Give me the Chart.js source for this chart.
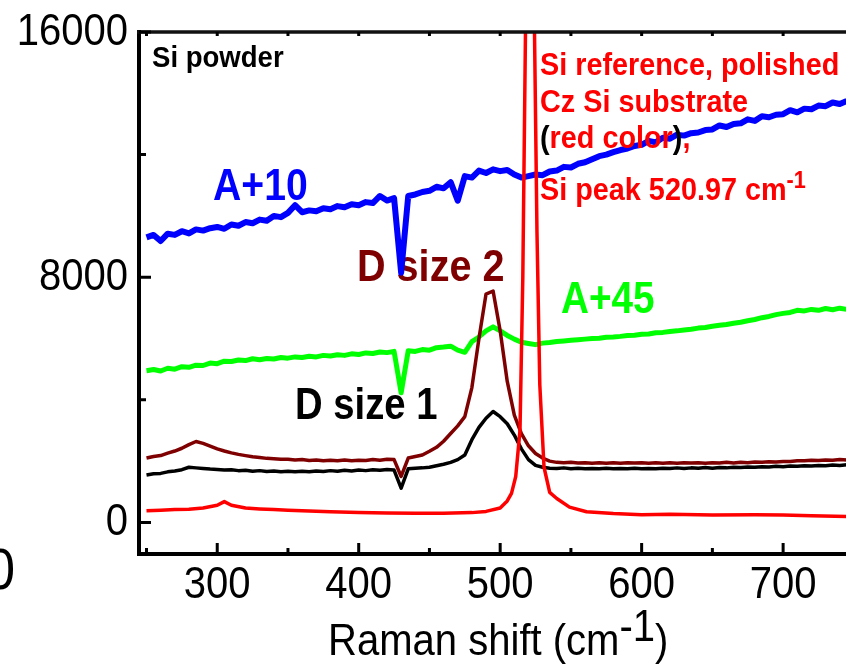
<!DOCTYPE html>
<html>
<head>
<meta charset="utf-8">
<title>Si powder Raman</title>
<script src="https://cdn.jsdelivr.net/npm/chart.js@4/dist/chart.umd.min.js"></script>
<style>
    html, body { margin: 0; padding: 0; background: #fff; overflow: hidden; }
    #ramanChart { display: block; }
</style>
</head>
<body>
<canvas id="ramanChart" width="870" height="665"></canvas>
<script>
// Raman shift grid (cm-1) shared by the powder spectra
var shift = [
    250, 255, 260, 265, 270, 275, 280, 285, 290, 295, 300, 305, 310, 315, 320, 325, 330, 335, 340, 345,
    350, 355, 360, 365, 370, 375, 380, 385, 390, 395, 400, 405, 410, 415, 420, 425, 430, 435, 440, 445,
    450, 455, 460, 465, 470, 475, 480, 485, 490, 495, 500, 505, 510, 515, 520, 525, 530, 535, 540, 545,
    550, 555, 560, 565, 570, 575, 580, 585, 590, 595, 600, 605, 610, 615, 620, 625, 630, 635, 640, 645,
    650, 655, 660, 665, 670, 675, 680, 685, 690, 695, 700, 705, 710, 715, 720, 725, 730, 735, 740, 745
];
var sampleA10 = [
    9300, 9380, 9180, 9420, 9380, 9500, 9430, 9560, 9520, 9600, 9640, 9580, 9720, 9680, 9800, 9760, 9880, 9840, 10000, 9960,
    10100, 10350, 10120, 10180, 10150, 10250, 10220, 10320, 10280, 10380, 10350, 10450, 10420, 10650, 10500, 10580, 8150, 10650, 10700, 10780,
    10820, 10950, 10900, 11100, 10500, 11300, 11250, 11480, 11400, 11520, 11460, 11500, 11350, 11250, 11300, 11350, 11330, 11450, 11480, 11600,
    11580, 11700, 11750, 11850, 11950, 12000, 12080, 12150, 12200, 12280, 12320, 12450, 12400, 12550, 12520, 12650, 12620, 12700, 12720, 12800,
    12820, 12950, 12900, 13000, 13020, 13150, 13100, 13250, 13220, 13300, 13320, 13450, 13380, 13500, 13480, 13600, 13580, 13700, 13650, 13750
];
var sampleA45 = [
    4950, 4990, 4940, 5030, 5000, 5080, 5060, 5130, 5120, 5200, 5180, 5260, 5250, 5300, 5280, 5340, 5310, 5350, 5330, 5380,
    5360, 5400, 5380, 5420, 5400, 5450, 5430, 5470, 5450, 5500, 5480, 5530, 5510, 5560, 5540, 5580, 4230, 5600, 5580, 5640,
    5620, 5700, 5720, 5750, 5620, 5550, 5900, 6050, 6250, 6380, 6250, 6100, 5980, 5880, 5840, 5800, 5850, 5870, 5900, 5920,
    5940, 5960, 5980, 6000, 6010, 6040, 6050, 6070, 6100, 6110, 6140, 6150, 6190, 6200, 6230, 6250, 6280, 6300, 6340, 6360,
    6400, 6430, 6460, 6500, 6530, 6580, 6620, 6680, 6720, 6780, 6820, 6850, 6920, 6900, 6950, 6920, 6980, 6940, 6990, 6950
];
var sizeD2 = [
    2100, 2150, 2180, 2260, 2330, 2420, 2540, 2640, 2580, 2490, 2400, 2330, 2270, 2220, 2180, 2140, 2120, 2090, 2080, 2060,
    2060, 2040, 2050, 2020, 2040, 2010, 2030, 2010, 2040, 2010, 2030, 2020, 2050, 2030, 2060, 2050, 1500, 2100, 2150, 2200,
    2320, 2450, 2650, 2900, 3150, 3450, 4400, 6000, 7450, 7550, 6250, 4600, 3500, 2900, 2500, 2250, 2100, 2000, 1960, 1950,
    1960, 1940, 1950, 1930, 1950, 1930, 1950, 1930, 1950, 1940, 1950, 1930, 1950, 1930, 1950, 1930, 1950, 1940, 1950, 1930,
    1950, 1940, 1960, 1940, 1960, 1950, 1970, 1960, 1980, 1970, 1990, 1990, 2010, 2010, 2030, 2020, 2040, 2030, 2050, 2040
];
var sizeD1 = [
    1550, 1590, 1600, 1650, 1680, 1720, 1800, 1780, 1760, 1740, 1730, 1710, 1720, 1690, 1700, 1670, 1690, 1660, 1680, 1650,
    1670, 1650, 1670, 1650, 1680, 1660, 1690, 1670, 1700, 1680, 1710, 1690, 1720, 1700, 1730, 1710, 1120, 1750, 1770, 1780,
    1800, 1850, 1900, 1960, 2050, 2200, 2700, 3100, 3400, 3620, 3450, 3220, 2850, 2400, 2050, 1860, 1800, 1770, 1760, 1780,
    1750, 1770, 1750, 1760, 1750, 1770, 1750, 1760, 1750, 1770, 1750, 1760, 1750, 1770, 1760, 1780, 1760, 1780, 1770, 1790,
    1770, 1790, 1780, 1800, 1790, 1810, 1800, 1820, 1810, 1830, 1820, 1840, 1830, 1850, 1840, 1860, 1850, 1870, 1860, 1880
];
// polished Cz Si reference, sampled finer around the 520.97 peak
var refShift = [250, 260, 270, 280, 290, 300, 305, 310, 320, 330, 340, 350, 360, 380, 400, 420, 440, 460, 480, 490,
    500, 505, 508, 511, 514, 516, 518, 521, 524, 526, 528, 531, 535, 540, 549, 561, 580, 600, 620, 650, 680, 700, 720, 745];
var refCounts = [380, 400, 420, 430, 470, 560, 680, 560, 470, 440, 420, 400, 380, 350, 320, 310, 300, 300, 320, 360,
    470, 700, 950, 1500, 3000, 8000, 16500, 60000, 17000, 9500, 4500, 1800, 980, 780, 500, 350, 290, 250, 270, 240, 250, 240, 220, 190];

var xTicks = [300, 400, 500, 600, 700];
var xTickLabels = ['300', '400', '500', '600', '700'];
var yTicks = [0, 8000, 16000];
var yTickLabels = ['0', '8000', '16000'];

(function raman () {
    'use strict';

    var FONT = '"Liberation Sans", Arial, Helvetica, sans-serif';

    function points (xs, ys) {
        return xs.map(function (x, i) { return { x: x, y: ys[i] }; });
    }

    // text is slightly condensed in the original figure
    function text (ctx, str, x, y, opts) {
        var sx = opts.sx || 0.9;
        ctx.save();
        ctx.font = (opts.bold ? 'bold ' : '') + opts.size + 'px ' + FONT;
        ctx.fillStyle = opts.color || '#000';
        ctx.textAlign = opts.align || 'left';
        ctx.textBaseline = 'alphabetic';
        ctx.translate(x, y);
        ctx.scale(sx, 1);
        ctx.fillText(str, 0, 0);
        var w = ctx.measureText(str).width * sx;
        ctx.restore();
        return w;
    }

    function runs (ctx, parts, x, y, opts) {
        parts.forEach(function (p) {
            x += text(ctx, p[0], x, y + (p[2] || 0), {
                size: p[3] || opts.size, bold: opts.bold, color: p[1], sx: opts.sx
            });
        });
    }

    var decor = {
        id: 'decor',
        beforeDatasetsDraw: function (chart) {
            var ctx = chart.ctx;
            text(ctx, 'Si powder', 152, 67, { size: 29, bold: true, sx: 0.95 });
            text(ctx, 'A+10', 213, 200, { size: 45, bold: true, color: '#0000ff', sx: 0.87 });
            text(ctx, 'A+45', 561, 313, { size: 45, bold: true, color: '#00ff00', sx: 0.86 });
            text(ctx, 'D size 2', 357, 281, { size: 45, bold: true, color: '#7f0000', sx: 0.88 });
            text(ctx, 'D size 1', 295, 419, { size: 45, bold: true, color: '#000', sx: 0.85 });
        },
        afterDatasetsDraw: function (chart) {
            var ctx = chart.ctx;
            var red = '#ff0000';
            var o = { size: 32, bold: true, sx: 0.9 };
            runs(ctx, [['Si reference, polished', red]], 540, 75, o);
            runs(ctx, [['Cz Si substrate', red]], 540, 112, o);
            runs(ctx, [['(', '#000'], ['red color', red], [')', '#000'], [',', red]], 540, 148, o);
            runs(ctx, [['Si peak 520.97 cm', red], ['-1', red, -12, 24]], 540, 200, o);
        },
        afterDraw: function (chart) {
            var ctx = chart.ctx;
            var area = chart.chartArea;
            var xs = chart.scales.x;
            var ys = chart.scales.y;
            var v;

            ctx.save();
            ctx.strokeStyle = '#111';
            ctx.lineWidth = 3.5;
            ctx.beginPath();
            ctx.moveTo(area.left - 2, area.top);
            ctx.lineTo(area.right, area.top);
            ctx.stroke();

            ctx.strokeStyle = '#000';
            ctx.lineWidth = 3;
            ctx.beginPath();
            for (v = 250; v <= 750; v += 50) {
                var px = xs.getPixelForValue(v);
                var len = v % 100 === 0 ? 11 : 6;
                ctx.moveTo(px, area.bottom);
                ctx.lineTo(px, area.bottom - len);
                ctx.moveTo(px, area.top);
                ctx.lineTo(px, area.top + 4);
            }
            for (v = 0; v <= 16000; v += 4000) {
                var py = ys.getPixelForValue(v);
                ctx.moveTo(area.left, py);
                ctx.lineTo(area.left + (v % 8000 === 0 ? 12 : 7), py);
            }
            ctx.stroke();
            ctx.restore();

            xTicks.forEach(function (t, i) {
                text(ctx, xTickLabels[i], xs.getPixelForValue(t), 598, { size: 44, align: 'center', sx: 0.91 });
            });
            yTicks.forEach(function (t, i) {
                text(ctx, yTickLabels[i], 128, ys.getPixelForValue(t) + 13, { size: 44, align: 'right', sx: 0.91 });
            });
            text(ctx, '0', 15, 589, { size: 58, align: 'right', sx: 0.91 });

            runs(ctx, [['Raman shift (cm', '#000'], ['-1', '#000', -14], [')', '#000']], 328, 655, { size: 44, sx: 0.91 });
        }
    };

    var ctx = document.getElementById('ramanChart').getContext('2d');

    new Chart(ctx, {
        type: 'line',
        data: {
            datasets: [{
                label: 'Si reference',
                data: points(refShift, refCounts),
                borderColor: '#ff0000',
                borderWidth: 3.5,
                order: 0
            }, {
                label: 'D size 1',
                data: points(shift, sizeD1),
                borderColor: '#000000',
                borderWidth: 3.5,
                order: 1
            }, {
                label: 'D size 2',
                data: points(shift, sizeD2),
                borderColor: '#7f0000',
                borderWidth: 3.5,
                order: 2
            }, {
                label: 'A+45',
                data: points(shift, sampleA45),
                borderColor: '#00ff00',
                borderWidth: 5,
                order: 3
            }, {
                label: 'A+10',
                data: points(shift, sampleA10),
                borderColor: '#0000ff',
                borderWidth: 6,
                order: 4
            }]
        },
        options: {
            responsive: false,
            animation: false,
            events: [],
            layout: { padding: { top: 32, right: 2, bottom: 0, left: 0 } },
            elements: {
                point: { radius: 0 },
                line: { tension: 0, fill: false, borderJoinStyle: 'round' }
            },
            plugins: {
                legend: { display: false },
                tooltip: { enabled: false }
            },
            scales: {
                x: {
                    type: 'linear',
                    min: 244.7,
                    max: 760,
                    grid: { display: false, drawTicks: false },
                    border: { display: true, width: 4, color: '#000' },
                    ticks: { display: false },
                    afterFit: function (scale) { scale.height = 111; }
                },
                y: {
                    type: 'linear',
                    min: -1030,
                    max: 16000,
                    grid: { display: false, drawTicks: false },
                    border: { display: true, width: 4, color: '#000' },
                    ticks: { display: false },
                    afterFit: function (scale) { scale.width = 139; }
                }
            }
        },
        plugins: [decor]
    });
}());
</script>
</body>
</html>
